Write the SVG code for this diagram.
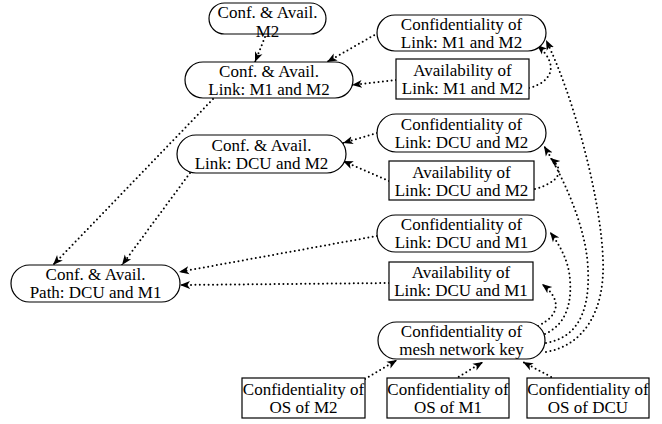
<svg xmlns="http://www.w3.org/2000/svg" width="662" height="424" viewBox="0 0 662 424">
<style>
.n{fill:#fff;stroke:#000;stroke-width:1.2}
text{font-family:"Liberation Serif","Times New Roman",serif;font-size:17px;fill:#000;text-anchor:middle}
.e{fill:none;stroke:#000;stroke-width:2;stroke-dasharray:0 4.4;stroke-linecap:round}
</style>
<defs>
<marker id="a" markerUnits="userSpaceOnUse" markerWidth="12" markerHeight="10" viewBox="0 0 12 10" refX="10" refY="5" orient="auto">
<path d="M10,5 L0,1 L2.6,5 L0,9 Z" fill="#000"/>
</marker>
</defs>
<rect width="662" height="424" fill="#fff"/>
<g id="connectors">
<path class="e" marker-end="url(#a)" d="M265,37 L255,62"/>
<path class="e" marker-end="url(#a)" d="M378,33 L327,62"/>
<path class="e" marker-end="url(#a)" d="M396,80 L352,85"/>
<path class="e" marker-end="url(#a)" d="M213,99 L53,265"/>
<path class="e" marker-end="url(#a)" d="M190,173 L122,265"/>
<path class="e" marker-end="url(#a)" d="M377,133 L343,143"/>
<path class="e" marker-end="url(#a)" d="M389,181 L343,161"/>
<path class="e" marker-end="url(#a)" d="M377,236 L179,272"/>
<path class="e" marker-end="url(#a)" d="M389,283 L180,285"/>
<path class="e" marker-end="url(#a)" d="M529,88 C552,82 560,65 537,45"/>
<path class="e" marker-end="url(#a)" d="M535,189 C556,183 568,172 550,158"/>
<path class="e" marker-end="url(#a)" d="M538,326 C560,315 562,300 542,284"/>
<path class="e" marker-end="url(#a)" d="M545,334 C565,325 572,305 570,280 C569,262 560,245 550,232"/>
<path class="e" marker-end="url(#a)" d="M546,343 C575,338 590,315 588,270 C587,230 565,180 544,146"/>
<path class="e" marker-end="url(#a)" d="M546,352 C585,345 605,310 603,260 C601,200 575,100 546,40"/>
<path class="e" marker-end="url(#a)" d="M365,379 L397,360"/>
<path class="e" marker-end="url(#a)" d="M455,379 L483,362"/>
<path class="e" marker-end="url(#a)" d="M555,379 L523,362"/>
</g>
<g id="n1"><rect class="n" x="209" y="3" width="117" height="31" rx="15.5"/><text x="267.5" y="18">Conf. &amp; Avail.</text><text x="267.5" y="37">M2</text></g>
<g id="n2"><rect class="n" x="185" y="62" width="168" height="36" rx="18"/><text x="269" y="76.5">Conf. &amp; Avail.</text><text x="269" y="94.5">Link: M1 and M2</text></g>
<g id="n3"><rect class="n" x="377" y="15" width="169" height="36" rx="18"/><text x="461.5" y="29.5">Confidentiality of</text><text x="461.5" y="47.5">Link: M1 and M2</text></g>
<g id="n4"><rect class="n" x="396" y="59" width="133" height="40"/><text x="462.5" y="76">Availability of</text><text x="462.5" y="94">Link: M1 and M2</text></g>
<g id="n5"><rect class="n" x="177" y="135" width="169" height="38" rx="19"/><text x="261.5" y="150.5">Conf. &amp; Avail.</text><text x="261.5" y="168.5">Link: DCU and M2</text></g>
<g id="n6"><rect class="n" x="377" y="114" width="169" height="38" rx="19"/><text x="461.5" y="129.5">Confidentiality of</text><text x="461.5" y="147.5">Link: DCU and M2</text></g>
<g id="n7"><rect class="n" x="389" y="161" width="145" height="39"/><text x="461.5" y="177.5">Availability of</text><text x="461.5" y="195.5">Link: DCU and M2</text></g>
<g id="n8"><rect class="n" x="11" y="265" width="169" height="37" rx="18.5"/><text x="95.5" y="280">Conf. &amp; Avail.</text><text x="95.5" y="298">Path: DCU and M1</text></g>
<g id="n9"><rect class="n" x="377" y="215" width="169" height="37" rx="18.5"/><text x="461.5" y="230">Confidentiality of</text><text x="461.5" y="248">Link: DCU and M1</text></g>
<g id="n10"><rect class="n" x="389" y="262" width="144" height="38"/><text x="461" y="278">Availability of</text><text x="461" y="296">Link: DCU and M1</text></g>
<g id="n11"><rect class="n" x="378" y="322" width="167" height="37" rx="18.5"/><text x="461.5" y="337">Confidentiality of</text><text x="461.5" y="355">mesh network key</text></g>
<g id="n12"><rect class="n" x="242" y="378" width="123" height="40"/><text x="303.5" y="395">Confidentiality of</text><text x="303.5" y="413">OS of M2</text></g>
<g id="n13"><rect class="n" x="387" y="378" width="122" height="40"/><text x="448" y="395">Confidentiality of</text><text x="448" y="413">OS of M1</text></g>
<g id="n14"><rect class="n" x="527" y="378" width="122" height="40"/><text x="588" y="395">Confidentiality of</text><text x="588" y="413">OS of DCU</text></g>
</svg>
